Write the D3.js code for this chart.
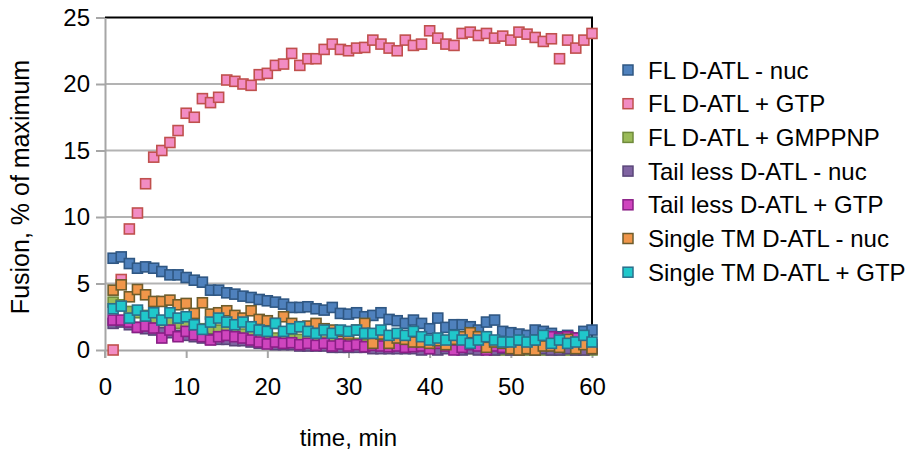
<!DOCTYPE html>
<html>
<head>
<meta charset="utf-8">
<script src="https://cdn.jsdelivr.net/npm/d3@7"></script>
<style>
  body { margin: 0; background: #fff; }
  svg { font-family: "Liberation Sans", Arial, sans-serif; }
  .grid line { stroke: #b3b3b3; stroke-width: 2; }
  .axis path, .axis line { stroke: #a6a6a6; stroke-width: 2; }
  .axis text { font-size: 24px; fill: #000; }
  .legend text { font-size: 24px; fill: #000; }
</style>
</head>
<body>
<div class="wrapper"></div>
<script>
var minutes = [1, 2, 3, 4, 5, 6, 7, 8, 9, 10, 11, 12, 13, 14, 15, 16, 17, 18, 19, 20,
  21, 22, 23, 24, 25, 26, 27, 28, 29, 30, 31, 32, 33, 34, 35, 36, 37, 38, 39, 40,
  41, 42, 43, 44, 45, 46, 47, 48, 49, 50, 51, 52, 53, 54, 55, 56, 57, 58, 59, 60];

var xTicks = [0, 10, 20, 30, 40, 50, 60];
var yTicks = [0, 5, 10, 15, 20, 25];

var seriesNames = ["FL D-ATL - nuc", "FL D-ATL + GTP", "FL D-ATL + GMPPNP",
  "Tail less D-ATL - nuc", "Tail less D-ATL + GTP", "Single TM D-ATL - nuc", "Single TM D-ATL + GTP"];

var flNuc = [6.9, 7.0, 6.5, 6.15, 6.25, 6.15, 5.9, 5.65, 5.65, 5.45, 5.25, 5.1, 4.5, 4.5, 4.3, 4.2, 4.05, 3.95, 3.8, 3.7,
  3.6, 3.45, 3.2, 3.2, 3.25, 3.1, 3.0, 3.2, 2.75, 2.7, 2.8, 2.5, 2.6, 2.8, 2.3, 2.2, 2.0, 2.25, 2.0, 1.6,
  2.4, 1.7, 1.9, 1.9, 1.75, 1.5, 2.1, 2.25, 1.4, 1.3, 1.2, 1.1, 1.5, 1.4, 1.25, 1.0, 1.1, 0.9, 1.4, 1.5];

var flGtp = [0, 5.3, 9.1, 10.3, 12.5, 14.5, 15.0, 15.6, 16.5, 17.8, 17.5, 18.9, 18.6, 19.0, 20.3, 20.2, 20.0, 19.9, 20.7, 20.8,
  21.4, 21.5, 22.3, 21.4, 21.9, 21.9, 22.6, 23.0, 22.6, 22.5, 22.7, 22.75, 23.3, 23.0, 22.7, 22.5, 23.3, 22.9, 23.0, 24.0,
  23.45, 23.0, 22.9, 23.8, 23.9, 23.65, 23.8, 23.45, 23.6, 23.3, 23.9, 23.75, 23.5, 23.2, 23.4, 21.9, 23.3, 22.7, 23.3, 23.8];

var flGmppnp = [3.6, 3.4, 2.9, 2.8, 2.6, 2.4, 2.2, 2.2, 2.0, 1.9, 1.8, 1.6, 1.6, 1.5, 1.4, 1.3, 1.2, 1.2, 1.1, 1.0,
  0.9, 0.9, 0.8, 0.8, 0.7, 0.7, 0.6, 0.6, 0.5, 0.5, 0.5, 0.4, 0.4, 0.4, 0.3, 0.3, 0.3, 0.3, 0.2, 0.2,
  0.2, 0.2, 0.1, 0.1, 0.1, 0.1, 0.1, 0.0, 0.0, 0.0, 0.0, 0.0, 0.0, 0.0, 0.0, 0.0, 0.0, 0.0, 0.0, 0.0];

var tailNuc = [2.0, 2.1, 1.9, 1.7, 1.6, 1.5, 1.3, 1.3, 1.1, 1.1, 1.0, 0.9, 0.8, 0.8, 0.8, 0.7, 0.7, 0.6, 0.5, 0.5,
  0.4, 0.4, 0.4, 0.3, 0.3, 0.3, 0.3, 0.2, 0.2, 0.2, 0.2, 0.2, 0.1, 0.1, 0.1, 0.1, 0.1, 0.1, 0.0, 0.1,
  0.0, 0.1, 0.1, 0.0, 0.1, 0.0, 0.1, 0.0, 0.1, 0.0, 0.0, 0.1, 0.0, 0.1, 0.0, 0.0, 0.1, 0.0, 0.0, 0.1];

var tailGtp = [2.25, 2.25, 2.1, 1.7, 1.8, 1.65, 0.9, 1.5, 1.0, 1.4, 1.15, 1.0, 0.75, 1.0, 1.1, 1.0, 0.9, 0.75, 0.6, 0.45,
  0.6, 0.5, 0.55, 0.4, 0.5, 0.35, 0.5, 0.3, 0.45, 0.3, 0.4, 0.25, 0.35, 0.3, 0.25, 0.3, 0.2, 0.25, 0.3, 0.1,
  0.5, 0.3, 0.0, 0.2, 0.4, 0.3, 0.0, 0.3, 0.2, 0.4, 0.3, 0.4, 0.5, 0.9, 1.0, 0.9, 1.0, 0.9, 0.6, 0.4];

var singleNuc = [4.5, 4.9, 4.0, 4.55, 4.15, 3.65, 3.65, 3.75, 3.4, 3.5, 2.75, 3.55, 2.7, 2.8, 2.95, 2.6, 2.4, 2.95, 2.3, 2.2,
  2.0, 2.5, 2.0, 1.75, 1.8, 2.0, 1.6, 1.5, 1.4, 1.2, 1.5, 2.0, 0.5, 1.2, 0.5, 0.9, 0.8, 0.6, 0.6, 0.5,
  0.7, 0.4, 0.8, 1.0, 1.3, 1.0, 0.2, 0.6, 0.5, 0.1, 0.0, 0.1, 0.0, 0.3, 0.3, 0.2, 0.8, 0.1, 0.4, 0.1];

var singleGtp = [3.1, 3.3, 2.4, 3.0, 2.55, 2.8, 2.25, 2.8, 2.4, 2.5, 1.9, 1.55, 2.1, 2.4, 2.1, 1.9, 2.1, 1.75, 1.5, 1.4,
  2.0, 1.4, 1.6, 1.75, 1.4, 1.25, 1.5, 1.25, 1.5, 1.4, 1.5, 1.25, 1.25, 1.5, 1.1, 1.25, 1.1, 1.4, 1.0, 0.75,
  0.9, 0.75, 1.1, 0.75, 0.5, 0.75, 1.0, 0.75, 0.6, 0.6, 0.75, 0.6, 0.75, 1.1, 0.5, 0.75, 0.5, 0.6, 1.1, 0.6];

var fills = ["#4f81bd", "#f28cc3", "#9bbb59", "#8064a2", "#cf45be", "#f0964a", "#20c8cb"];
var strokes = ["#2f5783", "#c0504d", "#6f8a3b", "#5a4679", "#8a1f86", "#6d5c2c", "#2b6f8c"];

var allSeries = [flNuc, flGtp, flGmppnp, tailNuc, tailGtp, singleNuc, singleGtp];

var margin = { left: 105, top: 17.5, right: 331, bottom: 100 };
var W = 923, H = 450;
var w = W - margin.left - margin.right;
var h = H - margin.top - margin.bottom;

var x = d3.scaleLinear().domain([0, 60]).range([0, w]);
var y = d3.scaleLinear().domain([0, 25]).range([h, 0]);

var svg = d3.select(".wrapper").append("svg")
  .attr("width", W)
  .attr("height", H);

var g = svg.append("g")
  .attr("transform", "translate(" + margin.left + "," + margin.top + ")");

// horizontal gridlines
g.append("g").classed("grid", true)
  .selectAll("line").data(yTicks.slice(1, -1)).enter().append("line")
  .attr("x1", 0).attr("x2", w)
  .attr("y1", function (d) { return y(d); })
  .attr("y2", function (d) { return y(d); });

// frame: black on top and right
g.append("path")
  .attr("d", "M0," + y(25) + "H" + x(60) + "V" + y(0))
  .attr("fill", "none")
  .attr("stroke", "#000")
  .attr("stroke-width", 2);

var yAxis = d3.axisLeft(y).tickValues(yTicks).tickSize(9).tickPadding(6).tickSizeOuter(0);
var xAxis = d3.axisBottom(x).tickValues(xTicks).tickSize(8).tickPadding(20).tickSizeOuter(0);

g.append("g").classed("axis", true).call(yAxis);
g.append("g").classed("axis", true)
  .attr("transform", "translate(0," + h + ")")
  .call(xAxis);

// y axis runs a bit past zero
g.append("line")
  .attr("x1", 0).attr("x2", 0)
  .attr("y1", h).attr("y2", h + 8)
  .attr("stroke", "#a6a6a6").attr("stroke-width", 2);

// markers
var sz = 10;
allSeries.forEach(function (vals, k) {
  g.append("g")
    .selectAll("rect").data(vals).enter().append("rect")
    .attr("x", function (d, i) { return x(minutes[i]) - sz / 2; })
    .attr("y", function (d) { return y(d) - sz / 2; })
    .attr("width", sz)
    .attr("height", sz)
    .attr("fill", fills[k])
    .attr("stroke", strokes[k])
    .attr("stroke-width", 1.6);
});

// axis titles
svg.append("text")
  .attr("x", margin.left + w / 2)
  .attr("y", 446)
  .attr("text-anchor", "middle")
  .style("font-size", "24px")
  .text("time, min");

svg.append("text")
  .attr("transform", "translate(29,187) rotate(-90)")
  .attr("text-anchor", "middle")
  .style("font-size", "25px")
  .text("Fusion, % of maximum");

// legend
var legend = svg.append("g").classed("legend", true)
  .attr("transform", "translate(623,70)");

var row = legend.selectAll("g").data(seriesNames).enter().append("g")
  .attr("transform", function (d, i) { return "translate(0," + (i * 33.7) + ")"; });

row.append("rect")
  .attr("x", 0).attr("y", -5)
  .attr("width", 10).attr("height", 10)
  .attr("fill", function (d, i) { return fills[i]; })
  .attr("stroke", function (d, i) { return strokes[i]; })
  .attr("stroke-width", 1.5);

row.append("text")
  .attr("x", 25)
  .attr("dy", "0.36em")
  .text(function (d) { return d; });
</script>
</body>
</html>
